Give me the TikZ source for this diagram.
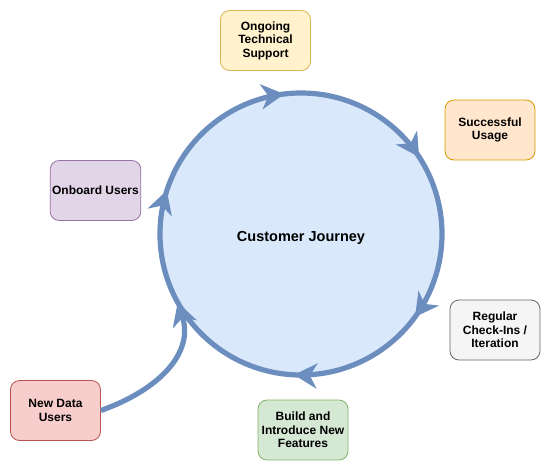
\documentclass[tikz,border=0pt]{standalone}
\usepackage{fontspec}
\setmainfont{Liberation Sans}
\usetikzlibrary{arrows.meta,decorations.markings}
\definecolor{jblue}{HTML}{6C8EBF}
\definecolor{jfill}{HTML}{DAE8FC}
\definecolor{yfill}{HTML}{FFF2CC}\definecolor{ydraw}{HTML}{D6B656}
\definecolor{ofill}{HTML}{FFE6CC}\definecolor{odraw}{HTML}{D79B00}
\definecolor{gfill}{HTML}{F5F5F5}\definecolor{gdraw}{HTML}{666666}
\definecolor{grfill}{HTML}{D5E8D4}\definecolor{grdraw}{HTML}{82B366}
\definecolor{rfill}{HTML}{F8CECC}\definecolor{rdraw}{HTML}{B85450}
\definecolor{pfill}{HTML}{E1D5E7}\definecolor{pdraw}{HTML}{9673A6}
\tikzset{jtip/.tip={Stealth[length=23pt,width=25pt,inset=7pt,color=jblue]}}
\begin{document}
\begin{tikzpicture}[x=1pt,y=-1pt,
  box/.style={draw, rounded corners=9pt, minimum width=90pt, minimum height=60pt,
    align=center, font=\fontsize{12}{13.5}\selectfont\bfseries, line width=0.8pt, inner sep=2pt},
  flow/.style={draw=jblue, line width=5.2pt}]
\useasboundingbox (0,0) rectangle (551,471);
\node[circle, fill=jfill, minimum size=282pt, inner sep=0pt, outer sep=0pt,
  text height=18.3pt, text depth=3pt,
  font=\fontsize{14.5}{16}\selectfont\bfseries] (journey) at (301,234) {Customer Journey};
\draw[flow, postaction={decorate}, decoration={markings,
    mark=at position 0.100 with {\arrow{jtip}},
    mark=at position 0.258 with {\arrow{jtip}},
    mark=at position 0.550 with {\arrow{jtip}},
    mark=at position 0.731 with {\arrow{jtip}},
    mark=at position 0.908 with {\arrow{jtip}}}]
  (journey.center) ++(141,0) arc[start angle=0, end angle=360, radius=141];
\node[box, fill=yfill, draw=ydraw] (support) at (265.5,40.5) {Ongoing\\Technical\\Support};
\node[box, fill=ofill, draw=odraw] (usage) at (490,130) {Successful\\Usage};
\node[box, fill=gfill, draw=gdraw] (checkins) at (495,330) {Regular\\Check-Ins /\\Iteration};
\node[box, fill=grfill, draw=grdraw] (build) at (303,430) {Build and\\Introduce New\\Features};
\node[box, fill=rfill, draw=rdraw] (newdata) at (55.5,410.5) {New Data\\Users};
\node[box, fill=pfill, draw=pdraw] (onboard) at (95.5,190.5) {Onboard Users};
\draw[flow, -{jtip}] (newdata.east) .. controls (161,389) and (194,352) .. (journey.209);
\end{tikzpicture}
\end{document}
